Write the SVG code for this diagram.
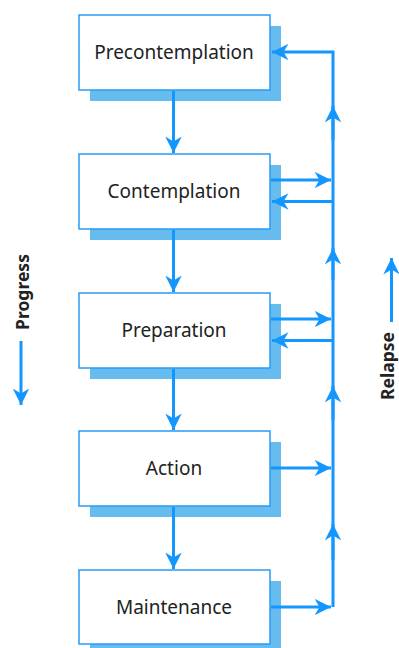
<svg xmlns="http://www.w3.org/2000/svg" width="399" height="648" viewBox="0 0 399 648">
  <style>
    .shadow { fill: #66bbef; }
    .box { fill: #ffffff; stroke: #2a9bf5; stroke-width: 1.5; }
    .label { font-family: "Noto Sans", "Open Sans", sans-serif; font-size: 19px; fill: #222222; text-anchor: middle; }
    .side { font-family: "Noto Sans", "Open Sans", sans-serif; font-size: 17.5px; font-weight: bold; fill: #222222; text-anchor: middle; }
    .line { stroke: #1496ff; stroke-width: 3; fill: none; }
    .head { fill: #1496ff; }
  </style>
  <defs>
    <marker id="arrow" viewBox="0 0 10 10" refX="10" refY="5" markerWidth="5.5" markerHeight="5.5" orient="auto" markerUnits="strokeWidth">
      <path d="M0,0 L10,5 L0,10 L3,5 Z" class="head"/>
    </marker>
  </defs>

  <g id="precontemplation">
    <rect class="shadow" x="90" y="26" width="191" height="75"/>
    <rect class="box" x="79" y="15" width="191" height="75"/>
    <text class="label" x="174" y="59">Precontemplation</text>
  </g>
  <g id="contemplation">
    <rect class="shadow" x="90" y="165" width="191" height="75"/>
    <rect class="box" x="79" y="154" width="191" height="75"/>
    <text class="label" x="174" y="198">Contemplation</text>
  </g>
  <g id="preparation">
    <rect class="shadow" x="90" y="304" width="191" height="75"/>
    <rect class="box" x="79" y="293" width="191" height="75"/>
    <text class="label" x="174" y="337">Preparation</text>
  </g>
  <g id="action">
    <rect class="shadow" x="90" y="442" width="191" height="75"/>
    <rect class="box" x="79" y="431" width="191" height="75"/>
    <text class="label" x="174" y="475">Action</text>
  </g>
  <g id="maintenance">
    <rect class="shadow" x="90" y="581" width="191" height="75"/>
    <rect class="box" x="79" y="570" width="191" height="74"/>
    <text class="label" x="174" y="614">Maintenance</text>
  </g>

  <g id="connectors">
    <!-- progress arrows between stages -->
    <line class="line" x1="173.5" y1="91" x2="173.5" y2="153" marker-end="url(#arrow)"/>
    <line class="line" x1="173.5" y1="230" x2="173.5" y2="292" marker-end="url(#arrow)"/>
    <line class="line" x1="173.5" y1="369" x2="173.5" y2="430" marker-end="url(#arrow)"/>
    <line class="line" x1="173.5" y1="507" x2="173.5" y2="569" marker-end="url(#arrow)"/>

    <!-- relapse return line -->
    <polyline class="line" points="333,607 333,52 272,52" marker-end="url(#arrow)"/>
    <line class="line" x1="333" y1="140" x2="333" y2="106" marker-end="url(#arrow)"/>
    <line class="line" x1="333" y1="280" x2="333" y2="248" marker-end="url(#arrow)"/>
    <line class="line" x1="333" y1="420" x2="333" y2="386" marker-end="url(#arrow)"/>
    <line class="line" x1="333" y1="560" x2="333" y2="524" marker-end="url(#arrow)"/>

    <!-- stage to return line -->
    <line class="line" x1="271" y1="180" x2="331" y2="180" marker-end="url(#arrow)"/>
    <line class="line" x1="333" y1="201.5" x2="272" y2="201.5" marker-end="url(#arrow)"/>
    <line class="line" x1="271" y1="319" x2="331" y2="319" marker-end="url(#arrow)"/>
    <line class="line" x1="333" y1="340.5" x2="272" y2="340.5" marker-end="url(#arrow)"/>
    <line class="line" x1="271" y1="468" x2="331" y2="468" marker-end="url(#arrow)"/>
    <line class="line" x1="271" y1="607" x2="331" y2="607" marker-end="url(#arrow)"/>

    <!-- side legends -->
    <line class="line" x1="21" y1="341" x2="21" y2="405" marker-end="url(#arrow)"/>
    <line class="line" x1="391.5" y1="322" x2="391.5" y2="258" marker-end="url(#arrow)"/>
  </g>

  <text class="side" transform="translate(29,292) rotate(-90)">Progress</text>
  <text class="side" transform="translate(394,366) rotate(-90)">Relapse</text>
</svg>
